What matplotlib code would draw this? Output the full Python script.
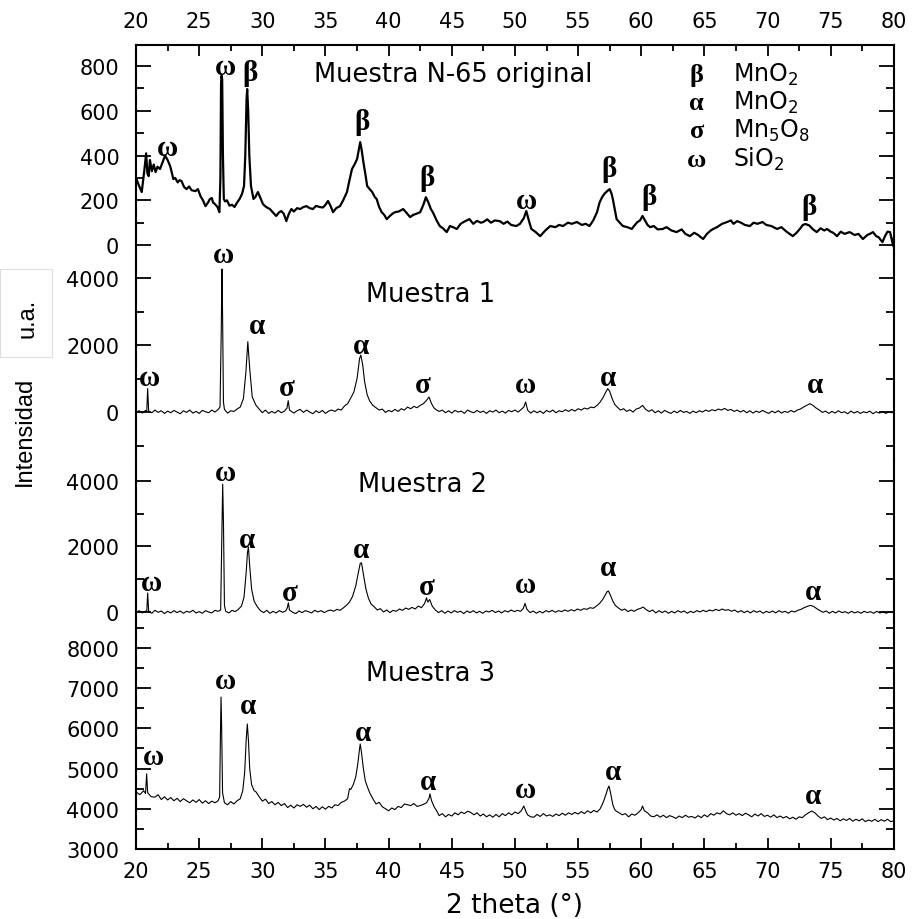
import matplotlib
matplotlib.use('Agg')
import matplotlib.pyplot as plt
import numpy as np
from matplotlib import font_manager
from matplotlib.patches import Rectangle
from matplotlib.ticker import MultipleLocator

# difractogramas: pares (2 theta, intensidad)
n65 = [(20.0, 300), (20.2, 270), (20.45, 237), (20.65, 330), (20.8, 410), (20.9, 320), (21.0, 308),
       (21.1, 380), (21.25, 330), (21.4, 360), (21.55, 326), (21.7, 350), (21.9, 340), (22.1, 370),
       (22.3, 400), (22.5, 380), (22.7, 353), (22.85, 320), (22.95, 295), (23.1, 300), (23.3, 280),
       (23.45, 290), (23.6, 286), (23.8, 260), (24.0, 250), (24.2, 262), (24.4, 245), (24.7, 241),
       (24.9, 250), (25.1, 219), (25.3, 200), (25.5, 174), (25.7, 190), (25.85, 206), (26.0, 210),
       (26.1, 190), (26.25, 183), (26.45, 170), (26.6, 147), (26.68, 300), (26.73, 720), (26.77, 757),
       (26.82, 740), (26.88, 400), (26.95, 206), (27.05, 195), (27.2, 200), (27.4, 176), (27.6, 180),
       (27.8, 170), (28.0, 190), (28.2, 206), (28.4, 230), (28.55, 264), (28.65, 400), (28.75, 650),
       (28.8, 697), (28.88, 600), (28.97, 400), (29.1, 264), (29.3, 206), (29.45, 215), (29.65, 237),
       (29.85, 210), (30.05, 183), (30.3, 170), (30.6, 161), (30.85, 145), (31.1, 130), (31.3, 145),
       (31.5, 152), (31.7, 140), (31.9, 107), (32.1, 140), (32.3, 161), (32.5, 150), (32.75, 165),
       (33.0, 161), (33.25, 170), (33.5, 174), (33.75, 165), (34.0, 161), (34.25, 175), (34.55, 170),
       (34.8, 168), (35.0, 180), (35.2, 197), (35.4, 175), (35.6, 147), (35.85, 165), (36.15, 174),
       (36.4, 200), (36.7, 237), (36.9, 290), (37.1, 340), (37.3, 360), (37.5, 384), (37.65, 430),
       (37.75, 460), (37.85, 430), (38.0, 371), (38.15, 320), (38.3, 264), (38.5, 250), (38.7, 237),
       (38.9, 215), (39.05, 206), (39.25, 170), (39.45, 147), (39.65, 135), (39.85, 116), (40.1, 130),
       (40.3, 140), (40.5, 147), (40.8, 150), (41.15, 161), (41.4, 145), (41.7, 125), (41.95, 135),
       (42.2, 140), (42.5, 147), (42.75, 180), (42.95, 214), (43.15, 190), (43.35, 160), (43.5, 147),
       (43.8, 110), (44.05, 85), (44.3, 75), (44.6, 58), (44.85, 85), (45.1, 80), (45.4, 72),
       (45.7, 95), (46.0, 105), (46.4, 116), (46.7, 95), (47.0, 108), (47.3, 100), (47.5, 103),
       (47.8, 115), (48.1, 100), (48.4, 110), (48.8, 107), (49.1, 95), (49.4, 105), (49.7, 90),
       (50.1, 85), (50.4, 95), (50.7, 120), (50.9, 152), (51.1, 110), (51.3, 72), (51.6, 60),
       (52.0, 40), (52.4, 65), (52.8, 85), (53.2, 80), (53.5, 90), (53.8, 85), (54.2, 100),
       (54.5, 95), (54.9, 103), (55.3, 90), (55.6, 95), (55.9, 85), (56.2, 110), (56.5, 147),
       (56.7, 190), (56.9, 214), (57.1, 230), (57.3, 241), (57.5, 250), (57.65, 230), (57.75, 206),
       (57.9, 160), (58.05, 116), (58.3, 100), (58.55, 85), (58.9, 80), (59.25, 72), (59.5, 90),
       (59.7, 103), (59.9, 110), (60.1, 130), (60.3, 110), (60.5, 90), (60.7, 80), (61.0, 85),
       (61.3, 70), (61.7, 72), (62.0, 80), (62.4, 65), (62.8, 58), (63.2, 70), (63.5, 50),
       (63.85, 40), (64.2, 55), (64.5, 45), (64.9, 27), (65.2, 50), (65.5, 65), (65.7, 72),
       (66.0, 80), (66.4, 95), (66.8, 103), (67.1, 110), (67.3, 95), (67.6, 107), (67.9, 100),
       (68.2, 90), (68.6, 85), (68.9, 100), (69.2, 95), (69.6, 103), (69.9, 90), (70.3, 85),
       (70.75, 72), (71.1, 80), (71.5, 60), (72.0, 40), (72.3, 55), (72.6, 75), (72.8, 90),
       (73.0, 94), (73.3, 88), (73.6, 70), (73.9, 58), (74.2, 75), (74.5, 65), (74.7, 72),
       (75.0, 60), (75.2, 55), (75.5, 40), (75.8, 60), (76.1, 50), (76.5, 58), (76.9, 45),
       (77.2, 50), (77.55, 27), (77.9, 45), (78.1, 50), (78.35, 58), (78.6, 40), (78.8, 35),
       (79.1, 13), (79.3, 40), (79.5, 60), (79.7, 58), (79.85, 20), (79.95, -4), (80.0, 30)]

m1 = [(20.0, 0), (20.25, 40), (20.5, -30), (20.75, 50), (20.85, 20), (20.92, 700), (21.0, 30),
      (21.25, -20), (21.5, 60), (21.75, -10), (22.0, 40), (22.25, -40), (22.5, 30), (22.75, -20),
      (23.0, 50), (23.25, 0), (23.5, -50), (23.75, 40), (24.0, -10), (24.25, 60), (24.5, -30),
      (24.75, 20), (25.0, -40), (25.25, 50), (25.5, 10), (25.75, -20), (26.0, 60), (26.25, 0),
      (26.5, 80), (26.65, 150), (26.75, 2500), (26.8, 4270), (26.85, 3000), (26.92, 300), (27.0, 80),
      (27.25, -30), (27.5, 40), (27.75, 20), (28.0, 90), (28.25, 150), (28.5, 400), (28.7, 1200),
      (28.85, 2100), (29.0, 1300), (29.2, 450), (29.5, 200), (29.75, 90), (30.0, -20), (30.25, 60),
      (30.5, -40), (30.75, 20), (31.0, -30), (31.25, 50), (31.5, -20), (31.75, 30), (31.95, 120),
      (32.05, 340), (32.15, 60), (32.5, -30), (32.75, 40), (33.0, 80), (33.25, -10), (33.5, 60),
      (33.75, 0), (34.0, -50), (34.25, 40), (34.5, -20), (34.75, 50), (35.0, -40), (35.25, 30),
      (35.5, 60), (35.75, 20), (36.0, 90), (36.25, 60), (36.5, 180), (36.75, 250), (37.0, 420),
      (37.25, 600), (37.5, 1000), (37.7, 1600), (37.8, 1700), (37.95, 1400), (38.1, 900), (38.3, 520),
      (38.5, 330), (38.75, 200), (39.0, 130), (39.25, 60), (39.5, 90), (39.75, -10), (40.0, 50),
      (40.25, 10), (40.5, 80), (40.75, 20), (41.0, 100), (41.25, 60), (41.5, 150), (41.75, 100),
      (42.0, 170), (42.25, 130), (42.5, 200), (42.75, 250), (43.0, 350), (43.2, 450), (43.4, 250),
      (43.6, 120), (43.8, 60), (44.0, 20), (44.25, 60), (44.5, -20), (44.75, 40), (45.0, -30),
      (45.25, 50), (45.5, 0), (45.75, 30), (46.0, -40), (46.25, 60), (46.5, 10), (46.75, -20),
      (47.0, 50), (47.25, -10), (47.5, 30), (47.75, -40), (48.0, 40), (48.25, 0), (48.5, 60),
      (48.75, -20), (49.0, 30), (49.25, -30), (49.5, 50), (49.75, 10), (50.0, 60), (50.25, 0),
      (50.5, 80), (50.7, 150), (50.85, 300), (51.0, 60), (51.25, -30), (51.5, 40), (51.75, -20),
      (52.0, 30), (52.25, -40), (52.5, 50), (52.75, 0), (53.0, 60), (53.25, -20), (53.5, 40),
      (53.75, 10), (54.0, 70), (54.25, 20), (54.5, 80), (54.75, 30), (55.0, 100), (55.25, 60),
      (55.5, 120), (55.75, 90), (56.0, 150), (56.25, 130), (56.5, 200), (56.75, 300), (57.0, 450),
      (57.2, 600), (57.35, 700), (57.5, 620), (57.7, 400), (57.9, 230), (58.1, 150), (58.35, 60),
      (58.6, 100), (58.85, 20), (59.1, 70), (59.35, 0), (59.6, 90), (59.85, 120), (60.1, 200),
      (60.35, 80), (60.6, 20), (60.85, 70), (61.1, -20), (61.35, 40), (61.6, -30), (61.85, 50),
      (62.1, 0), (62.35, -40), (62.6, 30), (62.85, -20), (63.1, 50), (63.35, -10), (63.6, 20),
      (63.85, -40), (64.1, 30), (64.35, -20), (64.6, 40), (64.85, 0), (65.1, 60), (65.35, 20),
      (65.6, 70), (65.85, 40), (66.1, 90), (66.35, 60), (66.6, 110), (66.85, 50), (67.1, 80),
      (67.35, 20), (67.6, 60), (67.85, 0), (68.1, 50), (68.35, -20), (68.6, 40), (68.85, -30),
      (69.1, 30), (69.35, -10), (69.6, 50), (69.85, 0), (70.1, -40), (70.35, 30), (70.6, -20),
      (70.85, 40), (71.1, -30), (71.35, 20), (71.6, -10), (71.85, 50), (72.1, 0), (72.35, 60),
      (72.6, 90), (72.85, 150), (73.1, 200), (73.35, 250), (73.6, 200), (73.85, 120), (74.1, 60),
      (74.35, -10), (74.6, 30), (74.85, -40), (75.1, 20), (75.35, -30), (75.6, 40), (75.85, -20),
      (76.1, 10), (76.35, -50), (76.6, 30), (76.85, -30), (77.1, 20), (77.35, -40), (77.6, 10),
      (77.85, -20), (78.1, 30), (78.35, -50), (78.6, 10), (78.85, -30), (79.1, 20), (79.35, -40),
      (79.6, 0), (79.85, -20), (80.0, 10)]

m2 = [(20.0, -20), (20.25, 40), (20.5, -30), (20.75, 30), (20.85, 0), (20.92, 580), (21.0, 20),
      (21.25, -40), (21.5, 50), (21.75, -10), (22.0, 30), (22.25, -50), (22.5, 20), (22.75, -30),
      (23.0, 40), (23.25, -20), (23.5, 30), (23.75, -40), (24.0, 20), (24.25, -10), (24.5, 50),
      (24.75, -30), (25.0, 10), (25.25, -40), (25.5, 40), (25.75, 0), (26.0, -30), (26.25, 50),
      (26.5, 20), (26.7, 60), (26.78, 2000), (26.86, 3900), (26.92, 2800), (27.0, 200), (27.1, 20),
      (27.35, -30), (27.6, 50), (27.85, 10), (28.1, 80), (28.35, 180), (28.55, 450), (28.72, 1200),
      (28.82, 1800), (28.9, 1980), (29.0, 1400), (29.15, 700), (29.35, 330), (29.6, 160), (29.85, 40),
      (30.1, -20), (30.35, 50), (30.6, -40), (30.85, 20), (31.1, -30), (31.35, 40), (31.6, -10),
      (31.85, 30), (31.97, 120), (32.06, 280), (32.15, 60), (32.4, -10), (32.65, -50), (32.9, 30),
      (33.15, -20), (33.4, 40), (33.65, 10), (33.9, -30), (34.15, 50), (34.4, 0), (34.65, 40),
      (34.9, -20), (35.15, 30), (35.4, 60), (35.65, 20), (35.9, 80), (36.15, 50), (36.4, 120),
      (36.65, 200), (36.9, 300), (37.15, 480), (37.4, 800), (37.6, 1200), (37.75, 1480), (37.85, 1500),
      (38.0, 1150), (38.2, 700), (38.4, 420), (38.6, 250), (38.85, 160), (39.1, 60), (39.35, 100),
      (39.6, 0), (39.85, 60), (40.1, -20), (40.35, 50), (40.6, 20), (40.85, 90), (41.1, 50),
      (41.35, 120), (41.6, 80), (41.85, 140), (42.1, 90), (42.35, 180), (42.6, 130), (42.85, 260),
      (43.0, 430), (43.1, 300), (43.25, 380), (43.45, 180), (43.7, 60), (43.95, -20), (44.2, 40),
      (44.45, -40), (44.7, 30), (44.95, -30), (45.2, 40), (45.45, -10), (45.7, 20), (45.95, -50),
      (46.2, 30), (46.45, -20), (46.7, 40), (46.95, -30), (47.2, 20), (47.45, -40), (47.7, 30),
      (47.95, 0), (48.2, 50), (48.45, -20), (48.7, 30), (48.95, -30), (49.2, 40), (49.45, 0),
      (49.7, 60), (49.95, 10), (50.2, 50), (50.45, 20), (50.65, 100), (50.8, 260), (50.95, 80),
      (51.2, -20), (51.45, 30), (51.7, -40), (51.95, 20), (52.2, -30), (52.45, 40), (52.7, 0),
      (52.95, 50), (53.2, -10), (53.45, 40), (53.7, 10), (53.95, 60), (54.2, 20), (54.45, 70),
      (54.7, 30), (54.95, 90), (55.2, 50), (55.45, 100), (55.7, 80), (55.95, 130), (56.2, 110),
      (56.45, 180), (56.7, 260), (56.95, 380), (57.15, 520), (57.3, 620), (57.4, 640), (57.55, 520),
      (57.75, 330), (57.95, 200), (58.2, 120), (58.45, 50), (58.7, 90), (58.95, 10), (59.2, 60),
      (59.45, 20), (59.7, 80), (59.95, 110), (60.15, 150), (60.4, 70), (60.65, 10), (60.9, 60),
      (61.15, -30), (61.4, 40), (61.65, -20), (61.9, 30), (62.15, -40), (62.4, 20), (62.65, -30),
      (62.9, 40), (63.15, -10), (63.4, 30), (63.65, -40), (63.9, 20), (64.15, -20), (64.4, 40),
      (64.65, 0), (64.9, 50), (65.15, 10), (65.4, 60), (65.65, 30), (65.9, 80), (66.15, 40),
      (66.4, 90), (66.65, 50), (66.9, 70), (67.15, 20), (67.4, 60), (67.65, -10), (67.9, 40),
      (68.15, -20), (68.4, 30), (68.65, -30), (68.9, 40), (69.15, -10), (69.4, 30), (69.65, -40),
      (69.9, 20), (70.15, -20), (70.4, 30), (70.65, -30), (70.9, 40), (71.15, -10), (71.4, 20),
      (71.65, -40), (71.9, 30), (72.15, 0), (72.4, 50), (72.65, 80), (72.9, 130), (73.15, 170),
      (73.4, 200), (73.65, 170), (73.9, 100), (74.15, 40), (74.4, -10), (74.65, 30), (74.9, -40),
      (75.15, 20), (75.4, -30), (75.65, 30), (75.9, -20), (76.15, 10), (76.4, -40), (76.65, 20),
      (76.9, -30), (77.15, 10), (77.4, -40), (77.65, 20), (77.9, -20), (78.15, 10), (78.4, -40),
      (78.65, 20), (78.9, -30), (79.15, 0), (79.4, -40), (79.65, 10), (79.9, -20), (80.0, 0)]

m3 = [(20.0, 4420), (20.3, 4350), (20.6, 4450), (20.75, 4380), (20.84, 4870), (20.92, 4400),
      (21.2, 4300), (21.5, 4290), (21.75, 4350), (22.0, 4230), (22.25, 4300), (22.5, 4220),
      (22.75, 4280), (23.0, 4200), (23.25, 4260), (23.5, 4180), (23.75, 4250), (24.0, 4200),
      (24.25, 4150), (24.5, 4220), (24.75, 4160), (25.0, 4230), (25.25, 4140), (25.5, 4200),
      (25.75, 4130), (26.0, 4190), (26.25, 4150), (26.5, 4200), (26.62, 4300), (26.68, 5800),
      (26.73, 6780), (26.78, 6000), (26.85, 4400), (27.0, 4150), (27.25, 4100), (27.5, 4180),
      (27.75, 4120), (28.0, 4200), (28.25, 4250), (28.45, 4450), (28.6, 4900), (28.72, 5700),
      (28.81, 6110), (28.9, 5700), (29.0, 5000), (29.15, 4600), (29.35, 4450), (29.5, 4420),
      (29.75, 4300), (30.0, 4190), (30.25, 4240), (30.5, 4130), (30.75, 4180), (31.0, 4100),
      (31.25, 4160), (31.5, 4080), (31.75, 4130), (32.0, 4030), (32.25, 4090), (32.5, 4020),
      (32.75, 4100), (33.0, 4060), (33.25, 4110), (33.5, 4040), (33.75, 4090), (34.0, 4000),
      (34.25, 4060), (34.5, 3980), (34.75, 4050), (35.0, 3990), (35.25, 4060), (35.5, 4020),
      (35.75, 4100), (36.0, 4080), (36.25, 4160), (36.5, 4190), (36.75, 4250), (36.9, 4500),
      (37.0, 4480), (37.2, 4600), (37.4, 4800), (37.55, 5100), (37.68, 5450), (37.75, 5612),
      (37.85, 5400), (38.0, 5000), (38.15, 4700), (38.3, 4560), (38.5, 4400), (38.75, 4250),
      (39.0, 4120), (39.25, 4160), (39.5, 4050), (39.75, 4000), (40.0, 3950), (40.25, 4020),
      (40.5, 3980), (40.75, 4060), (41.0, 4030), (41.25, 4120), (41.5, 4100), (41.75, 4080),
      (42.0, 4130), (42.25, 4060), (42.5, 4080), (42.75, 4110), (43.0, 4150), (43.2, 4260),
      (43.27, 4370), (43.4, 4200), (43.6, 4050), (43.8, 3950), (44.0, 3830), (44.25, 3880),
      (44.5, 3800), (44.75, 3860), (45.0, 3820), (45.25, 3900), (45.5, 3850), (45.75, 3920),
      (46.0, 3880), (46.25, 3940), (46.5, 3910), (46.75, 3850), (47.0, 3900), (47.25, 3820),
      (47.5, 3870), (47.75, 3800), (48.0, 3850), (48.25, 3790), (48.5, 3860), (48.75, 3800),
      (49.0, 3880), (49.25, 3830), (49.5, 3900), (49.75, 3850), (50.0, 3920), (50.25, 3880),
      (50.5, 3950), (50.7, 4070), (50.85, 3950), (51.0, 3850), (51.25, 3800), (51.5, 3790),
      (51.75, 3860), (52.0, 3810), (52.25, 3880), (52.5, 3820), (52.75, 3850), (53.0, 3810),
      (53.25, 3870), (53.5, 3830), (53.75, 3890), (54.0, 3840), (54.25, 3900), (54.5, 3860),
      (54.75, 3910), (55.0, 3870), (55.25, 3930), (55.5, 3880), (55.75, 3950), (56.0, 3900),
      (56.25, 3960), (56.5, 3920), (56.75, 4000), (57.0, 4170), (57.2, 4350), (57.35, 4500),
      (57.45, 4567), (57.6, 4350), (57.75, 4100), (57.9, 3980), (58.0, 3945), (58.25, 3900),
      (58.5, 3850), (58.75, 3880), (59.0, 3800), (59.25, 3870), (59.5, 3840), (59.75, 3900),
      (60.0, 3980), (60.1, 4070), (60.25, 3950), (60.5, 3900), (60.75, 3820), (61.0, 3800),
      (61.25, 3850), (61.5, 3790), (61.75, 3840), (62.0, 3780), (62.25, 3830), (62.5, 3800),
      (62.75, 3760), (63.0, 3820), (63.25, 3780), (63.5, 3840), (63.75, 3790), (64.0, 3810),
      (64.25, 3770), (64.5, 3830), (64.75, 3780), (65.0, 3850), (65.25, 3800), (65.5, 3880),
      (65.75, 3840), (66.0, 3900), (66.25, 3870), (66.5, 3950), (66.75, 3880), (67.0, 3850),
      (67.25, 3900), (67.5, 3840), (67.75, 3880), (68.0, 3830), (68.25, 3890), (68.5, 3850),
      (68.75, 3800), (69.0, 3870), (69.25, 3820), (69.5, 3880), (69.75, 3810), (70.0, 3840),
      (70.25, 3790), (70.5, 3850), (70.75, 3780), (71.0, 3820), (71.25, 3770), (71.5, 3810),
      (71.75, 3750), (72.0, 3790), (72.25, 3740), (72.5, 3800), (72.75, 3780), (73.0, 3850),
      (73.25, 3900), (73.5, 3945), (73.75, 3900), (74.0, 3820), (74.25, 3760), (74.5, 3800),
      (74.75, 3730), (75.0, 3770), (75.25, 3720), (75.5, 3760), (75.75, 3700), (76.0, 3750),
      (76.25, 3710), (76.5, 3760), (76.75, 3690), (77.0, 3740), (77.25, 3700), (77.5, 3750),
      (77.75, 3680), (78.0, 3720), (78.25, 3690), (78.5, 3740), (78.75, 3680), (79.0, 3730),
      (79.25, 3690), (79.5, 3740), (79.75, 3680), (80.0, 3700)]

# identificacion de fases sobre cada difractograma
fases_n65 = [('ω', 22.5, 438), ('ω', 27.05, 796), ('β', 29.0, 769), ('β', 37.9, 550), ('β', 43.0, 304),
             ('ω', 50.95, 197), ('β', 57.45, 340), ('β', 60.6, 219), ('β', 73.3, 174)]
fases_m1 = [('ω', 21.1, 1045), ('ω', 26.9, 4716), ('α', 29.55, 2597), ('σ', 31.9, 746), ('α', 37.8, 2000),
            ('σ', 42.7, 836), ('ω', 50.8, 836), ('α', 57.4, 1045), ('α', 73.75, 836)]
fases_m2 = [('ω', 21.2, 885), ('ω', 27.05, 4270), ('α', 28.8, 2226), ('σ', 32.2, 580), ('α', 37.8, 1920),
            ('σ', 43.0, 790), ('ω', 50.8, 850), ('α', 57.4, 1370), ('α', 73.6, 610)]
fases_m3 = [('ω', 21.35, 5290), ('ω', 27.05, 7180), ('α', 28.9, 6580), ('α', 37.95, 5910), ('α', 43.1, 4667),
            ('ω', 50.85, 4490), ('α', 57.75, 4940), ('α', 73.6, 4320)]

titulos = ['Muestra N-65 original', 'Muestra 1', 'Muestra 2', 'Muestra 3']
leyenda_simb = ['β', 'α', 'σ', 'ω']
leyenda_fase = [r'MnO$_2$', r'MnO$_2$', r'Mn$_5$O$_8$', r'SiO$_2$']

plt.rcParams['font.family'] = 'DejaVu Sans'
plt.rcParams['mathtext.fontset'] = 'dejavusans'
griego = 'Liberation Serif'
tam_ticks = 15

fig = plt.figure(figsize=(9.13, 9.2), dpi=100)

left, width = 0.149, 0.830
paneles = [
    # datos, fases, posicion (bottom, height), ylim, major, minor, grosor, titulo (x, y axes)
    (n65, fases_n65, (0.7228, 0.2272), (-40, 894), 200, 100, 1.6, (45.1, 0.828)),
    (m1, fases_m1, (0.5, 0.2228), (-1400, 4716), 2000, 1000, 0.8, (43.3, 0.771)),
    (m2, fases_m2, (0.3207, 0.1793), (-366, 4667), 2000, 1000, 0.8, (42.7, 0.806)),
    (m3, fases_m3, (0.0761, 0.2446), (3000, 8598), 1000, 500, 0.8, (43.35, 0.751)),
]

axes = []
for i, (datos, fases, (b, h), ylim, maj, mnr, lw, (tx, ty)) in enumerate(paneles):
    ax = fig.add_axes([left, b, width, h])
    ax.set_facecolor('none')
    x, y = np.array(datos).T
    ax.plot(x, y, color='black', lw=lw)
    ax.set_xlim(20, 80)
    ax.set_ylim(*ylim)
    ax.yaxis.set_major_locator(MultipleLocator(maj))
    ax.yaxis.set_minor_locator(MultipleLocator(mnr))
    ax.xaxis.set_major_locator(MultipleLocator(5))
    ax.xaxis.set_minor_locator(MultipleLocator(2.5))
    for s in ax.spines.values():
        s.set_linewidth(1.5)
    ax.tick_params(axis='y', which='both', direction='in', left=True, right=True,
                   labelleft=True, labelright=False, labelsize=tam_ticks, pad=12, width=1.3)
    ax.tick_params(axis='y', which='major', length=11)
    ax.tick_params(axis='y', which='minor', length=6)
    if i == 0:
        ax.spines['bottom'].set_visible(False)
        ax.tick_params(axis='x', which='both', direction='in', top=True, bottom=False,
                       labeltop=True, labelbottom=False, labelsize=tam_ticks, pad=10, width=1.3)
    elif i == 3:
        ax.spines['top'].set_visible(False)
        ax.tick_params(axis='x', which='both', direction='in', top=False, bottom=True,
                       labeltop=False, labelbottom=True, labelsize=tam_ticks, pad=9, width=1.3)
    else:
        ax.spines['top'].set_visible(False)
        ax.spines['bottom'].set_visible(False)
        ax.tick_params(axis='x', which='both', top=False, bottom=False,
                       labeltop=False, labelbottom=False)
    ax.tick_params(axis='x', which='major', length=8)
    ax.tick_params(axis='x', which='minor', length=4.5)

    for simb, fx, fy in fases:
        ax.text(fx, fy, simb, family=griego, fontweight='bold', fontsize=21,
                ha='center', va='center', clip_on=False)
    ax.text(tx, ty, titulos[i], transform=ax.get_xaxis_transform(), fontsize=18.5,
            ha='center', va='baseline')
    axes.append(ax)

# leyenda de fases en el panel superior
ax0 = axes[0]
for simb, fase, yb in zip(leyenda_simb, leyenda_fase, [0.828, 0.694, 0.560, 0.421]):
    ax0.text(0.740, yb, simb, transform=ax0.transAxes, family=griego, fontweight='bold',
             fontsize=19, ha='center', va='baseline')
    ax0.text(0.788, yb, fase, transform=ax0.transAxes, fontsize=17, ha='left', va='baseline')

fig.text(0.564, 0.008, '2 theta (°)', fontsize=19, ha='center', va='baseline')

nombres = {f.name for f in font_manager.fontManager.ttflist}
if 'Liberation Sans Narrow' in nombres:
    fuente_y, tam_y = 'Liberation Sans Narrow', 20
else:
    fuente_y, tam_y = 'Liberation Sans', 17
fig.patches.append(Rectangle((0.0, 0.611), 0.057, 0.0957, transform=fig.transFigure,
                             facecolor='white', edgecolor='#dddddd', lw=0.8))
fig.text(0.030, 0.654, 'u.a.', family=fuente_y, fontsize=tam_y, rotation=90,
         ha='center', va='center')
fig.text(0.027, 0.531, 'Intensidad', family=fuente_y, fontsize=tam_y, rotation=90,
         ha='center', va='center')

fig.savefig('out.png', dpi=100)
